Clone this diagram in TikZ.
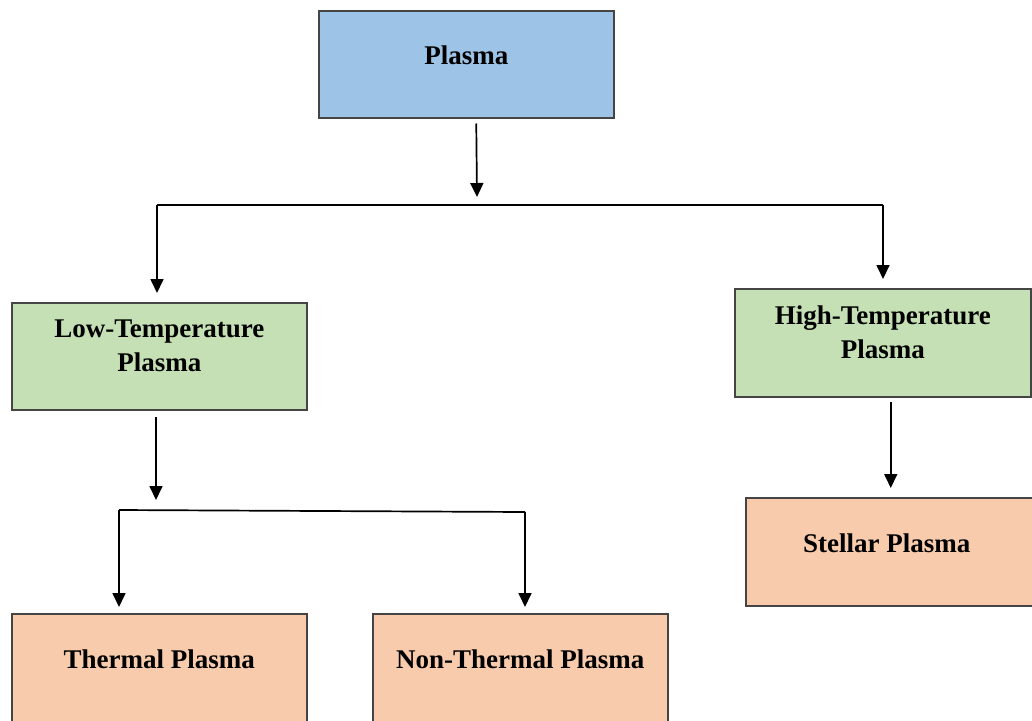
\documentclass[tikz,border=0pt]{standalone}
\usepackage{fontspec}
\setmainfont{Liberation Serif}
\usetikzlibrary{arrows.meta,calc}

\definecolor{rootblue}{HTML}{9DC3E6}
\definecolor{midgreen}{HTML}{C5E0B4}
\definecolor{leaforange}{HTML}{F8CBAD}
\definecolor{edgegray}{HTML}{454545}

\tikzset{
  box/.style={draw=edgegray, line width=1.5pt, anchor=north west,
    minimum width=295pt, minimum height=107pt, inner sep=0pt},
  boxtext/.style={font=\bfseries\fontsize{27}{34}\selectfont, align=center,
    yshift=9pt, inner sep=0pt},
  arr/.style={line width=1.7pt, -{Triangle[width=13pt,length=14pt]}},
  bus/.style={line width=1.7pt, line join=miter},
}

\begin{document}
\begin{tikzpicture}[x=1pt,y=-1pt]
\useasboundingbox (0,0) rectangle (1032,720);

% boxes
\node[box, fill=rootblue] (plasma) at (318,10) {};
\node[boxtext] (plasmaT) at (plasma.center) {Plasma};

\node[box, fill=midgreen] (low) at (11,302) {};
\node[boxtext, yshift=1pt] (lowT) at (low.center) {Low-Temperature\\Plasma};

\node[box, fill=midgreen, minimum width=296pt, minimum height=108pt] (high) at (734,288) {};
\node[boxtext, yshift=1pt] (highT) at (high.center) {High-Temperature\\Plasma};

\node[box, fill=leaforange, minimum width=290pt, minimum height=108pt] (stellar) at (745,497) {};
\node[boxtext, yshift=-1pt] (stellarT) at ($(stellar.center)+(-4,0)$) {Stellar Plasma};

\node[box, fill=leaforange, minimum height=120pt] (thermal) at (11,613) {};
\node[boxtext] (thermalT) at ($(thermal.north)+(0,55)$) {Thermal Plasma};

\node[box, fill=leaforange, minimum height=120pt] (nonthermal) at (372,613) {};
\node[boxtext] (nonthermalT) at ($(nonthermal.north)+(0,55)$) {Non-Thermal Plasma};

% junction points of the two distribution lines
\coordinate (busA) at (477,205);
\coordinate (busAL) at (157,205);
\coordinate (busAR) at (883,205);
\coordinate (busB) at (156,510);
\coordinate (busBL) at (119,510);
\coordinate (busBR) at (525,512);

% first level
\draw[arr] ($(plasma.south)+(10,5)$) -- ($(busA)+(0,-8)$);
\draw[bus] (busAL) -- (busAR);
\draw[arr] (busAL) -- ($(busAL |- low.north)+(0,-9)$);
\draw[arr] (busAR) -- ($(busAR |- high.north)+(0,-9)$);

% low-temperature branch
\draw[arr] ($(busB |- low.south)+(0,6)$) -- ($(busB)+(0,-10)$);
\draw[bus] (busBL) -- (busBR);
\draw[arr] (busBL) -- ($(busBL |- thermal.north)+(0,-6)$);
\draw[arr] (busBR) -- ($(busBR |- nonthermal.north)+(0,-6)$);

% high-temperature branch
\draw[arr] ($(high.south)+(8,4)$) -- ($(stellar.north -| high.south)+(8,-9)$);
\end{tikzpicture}
\end{document}
